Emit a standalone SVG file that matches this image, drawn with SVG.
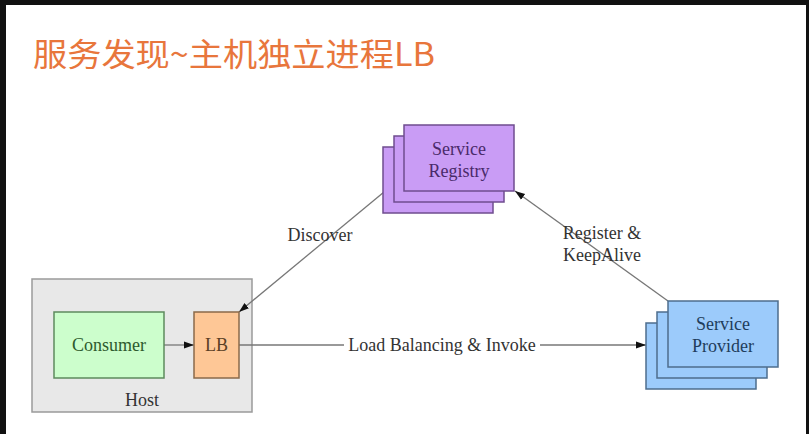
<svg xmlns="http://www.w3.org/2000/svg" width="809" height="434" viewBox="0 0 809 434">
<style>
.lbl{font-family:"Liberation Serif","Times New Roman",serif;font-size:18px;text-anchor:middle}
.edge{stroke:#777;stroke-width:1.3;fill:none}
.reg{fill:#c99cf5;stroke:#6f4c8f;stroke-width:1.5}
.prov{fill:#9ccbfb;stroke:#4d6d8d;stroke-width:1.5}
</style>
<defs>
<marker id="ah" viewBox="0 0 10 10" refX="10" refY="5" markerWidth="10" markerHeight="10" markerUnits="userSpaceOnUse" orient="auto">
<path d="M0,1.5 L10,5 L0,8.5 Z" fill="#111"/>
</marker>
</defs>
<rect x="0" y="0" width="809" height="434" fill="#111"/>
<rect x="6" y="5" width="800" height="429" fill="#fff"/>
<text x="33" y="66" font-family="'Noto Sans CJK SC',sans-serif" font-size="32" fill="#e8763c" textLength="402" lengthAdjust="spacingAndGlyphs">服务发现~主机独立进程LB</text>

<g id="host">
<rect x="32" y="279" width="220" height="133" fill="#e8e8e8" stroke="#9a9a9a" stroke-width="1.5"/>
<text class="lbl" x="142" y="406" fill="#333">Host</text>
</g>

<g id="connectors">
<line class="edge" x1="164" y1="345" x2="194" y2="345" marker-end="url(#ah)"/>
<line class="edge" x1="239" y1="345" x2="646" y2="345" marker-end="url(#ah)"/>
<line class="edge" x1="384" y1="192" x2="239" y2="312" marker-end="url(#ah)"/>
<line class="edge" x1="668" y1="301" x2="515" y2="191" marker-end="url(#ah)"/>
<rect x="344" y="335" width="196" height="20" fill="#fff"/>
<text class="lbl" x="442" y="351" fill="#333">Load Balancing &amp; Invoke</text>
<text class="lbl" x="320" y="241" fill="#333">Discover</text>
<text class="lbl" x="602" y="239" fill="#333">Register &amp;</text>
<text class="lbl" x="602" y="261" fill="#333">KeepAlive</text>
</g>

<g id="consumer">
<rect x="54" y="312" width="110" height="66" fill="#ccfecc" stroke="#5d8a5d" stroke-width="1.5"/>
<text class="lbl" x="109" y="351" fill="#2d5a2d">Consumer</text>
</g>

<g id="lb">
<rect x="194" y="312" width="45" height="66" fill="#fec796" stroke="#8a6a4a" stroke-width="1.5"/>
<text class="lbl" x="216.5" y="351" fill="#5a3f25">LB</text>
</g>

<g id="registry">
<rect class="reg" x="383" y="147" width="110" height="66"/>
<rect class="reg" x="394" y="136" width="110" height="66"/>
<rect class="reg" x="404" y="125" width="110" height="66"/>
<text class="lbl" x="459" y="155" fill="#4a2a6a">Service</text>
<text class="lbl" x="459" y="177" fill="#4a2a6a">Registry</text>
</g>

<g id="provider">
<rect class="prov" x="646" y="323" width="110" height="66"/>
<rect class="prov" x="657" y="312" width="110" height="66"/>
<rect class="prov" x="668" y="301" width="110" height="66"/>
<text class="lbl" x="723" y="330" fill="#1f3d5c">Service</text>
<text class="lbl" x="723" y="352" fill="#1f3d5c">Provider</text>
</g>
</svg>
